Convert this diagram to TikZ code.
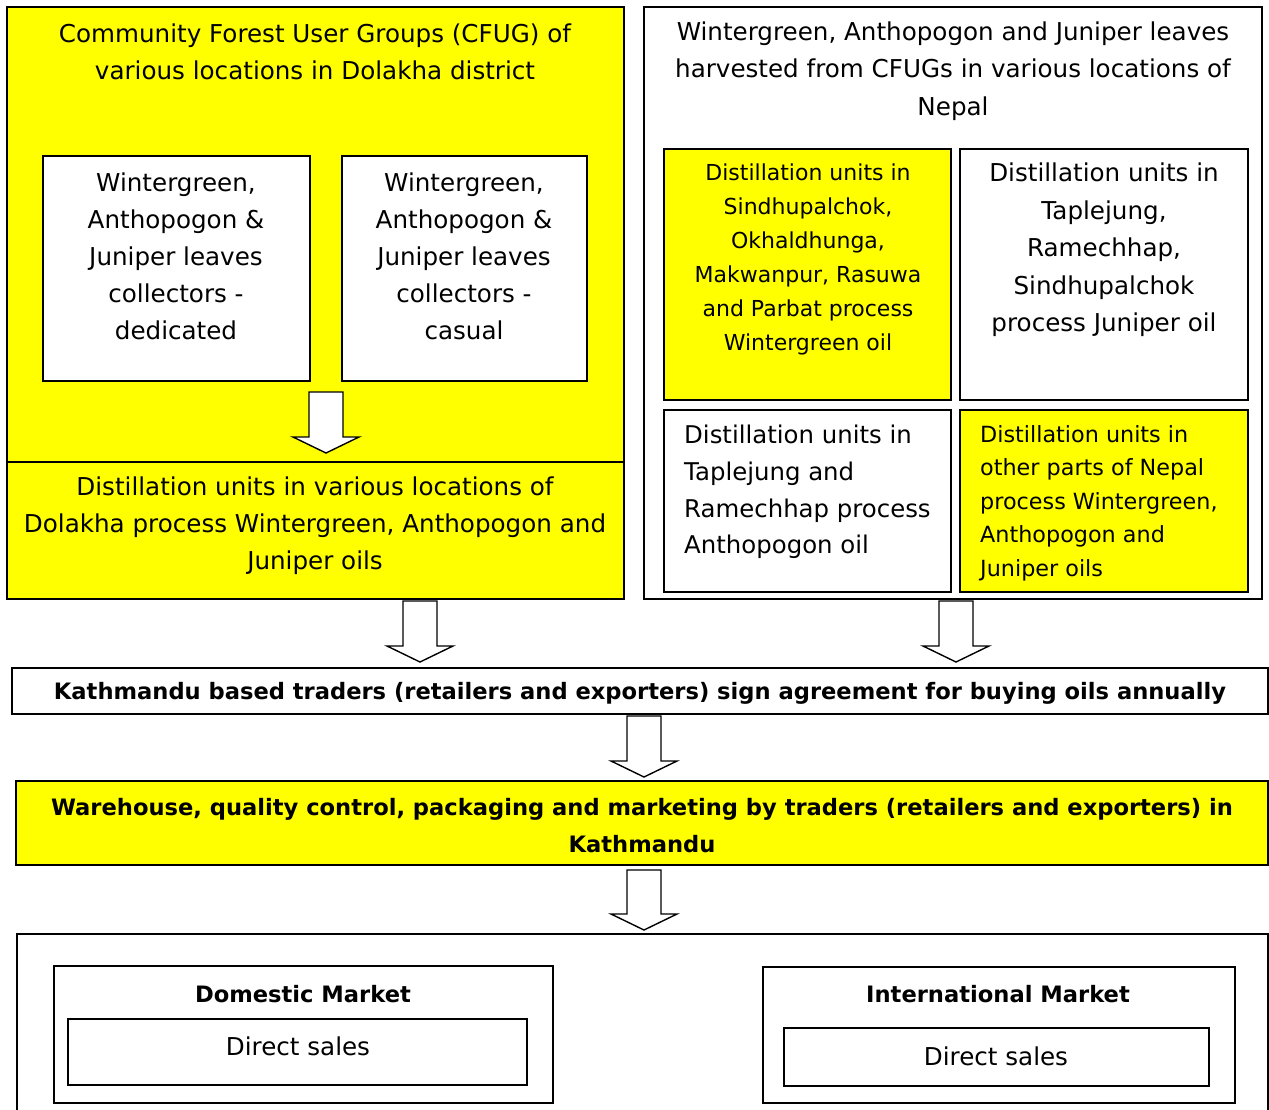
\documentclass[tikz,border=0pt]{standalone}
\usepackage{fontspec}
\setmainfont{DejaVu Sans}
\definecolor{yel}{HTML}{FFFF00}
\tikzset{
  box/.style={draw=black, line width=2pt, inner sep=0pt},
  ybox/.style={box, fill=yel},
  wbox/.style={box, fill=white},
  txt/.style={inner sep=0pt, align=center, font=\fontsize{24.6}{37}\selectfont},
  stxt/.style={inner sep=0pt, align=center, font=\fontsize{22}{34}\selectfont},
  btxt/.style={inner sep=0pt, align=center, font=\bfseries\fontsize{22.6}{37}\selectfont},
  barrow/.style={draw=black, line width=1.4pt, fill=white, line join=miter}
}
\newcommand\blockarrow[4]{% name, x, ytop, ytip
  \path[barrow] (#2-17,#3) -- (#2+17,#3) -- (#2+17,#4-16) -- (#2+33,#4-16)
    -- (#2,#4) -- (#2-33,#4-16) -- (#2-17,#4-16) -- cycle;
  \coordinate (#1) at (#2,#4);
}
\begin{document}
\begin{tikzpicture}[x=1pt,y=-1pt]
\useasboundingbox (0,0) rectangle (1269,1109);
% left block
\draw[ybox] (7,7) rectangle (624,599);
\coordinate (divL) at (7,462);
\coordinate (divR) at (624,462);
\draw[line width=2pt] (divL) -- (divR);
\node[txt] (cfug) at (315,52) {Community Forest User Groups (CFUG) of\\various locations in Dolakha district};
\draw[wbox] (43,156) rectangle (310,381);
\draw[wbox] (342,156) rectangle (587,381);
\node[txt] (ded) at (176,256) {Wintergreen,\\Anthopogon \&\\Juniper leaves\\collectors -\\dedicated};
\node[txt] (cas) at (464,256) {Wintergreen,\\Anthopogon \&\\Juniper leaves\\collectors -\\casual};
\blockarrow{a1}{326}{392}{453}
\node[txt] (dol) at (315,526) {Distillation units in various locations of\\Dolakha process Wintergreen, Anthopogon and\\Juniper oils};
% right block
\draw[wbox] (644,7) rectangle (1262,599);
\node[txt, font=\fontsize{24.6}{37.5}\selectfont] (harv) at (953,71) {Wintergreen, Anthopogon and Juniper leaves\\harvested from CFUGs in various locations of\\Nepal};
\draw[ybox] (664,149) rectangle (951,400);
\draw[wbox] (960,149) rectangle (1248,400);
\draw[wbox] (664,410) rectangle (951,592);
\draw[ybox] (960,410) rectangle (1248,592);
\node[stxt] (wg) at (808,259) {Distillation units in\\Sindhupalchok,\\Okhaldhunga,\\Makwanpur, Rasuwa\\and Parbat process\\Wintergreen oil};
\node[txt, font=\fontsize{24.6}{37.5}\selectfont] (jun) at (1104,250) {Distillation units in\\Taplejung,\\Ramechhap,\\Sindhupalchok\\process Juniper oil};
\node[txt, align=left, anchor=west, font=\fontsize{24.4}{36.7}\selectfont] (anth) at (684,492) {Distillation units in\\Taplejung and\\Ramechhap process\\Anthopogon oil};
\node[stxt, align=left, anchor=west, font=\fontsize{22.3}{33.5}\selectfont] (oth) at (980,503) {Distillation units in\\other parts of Nepal\\process Wintergreen,\\Anthopogon and\\Juniper oils};
% arrows to traders
\blockarrow{a2}{420}{601}{662}
\blockarrow{a3}{956}{601}{662}
% traders
\draw[wbox] (12,668) rectangle (1268,714);
\node[btxt] (trad) at (640,693) {Kathmandu based traders (retailers and exporters) sign agreement for buying oils annually};
\blockarrow{a4}{644}{716}{777}
\draw[ybox] (16,781) rectangle (1268,865);
\node[btxt] (ware) at (642,826) {Warehouse, quality control, packaging and marketing by traders (retailers and exporters) in\\Kathmandu};
\blockarrow{a5}{644}{870}{930}
% markets
\draw[box] (17,1125) -- (17,934) -- (1268,934) -- (1268,1125);
\draw[wbox] (54,966) rectangle (553,1103);
\node[btxt] (dom) at (303,994) {Domestic Market};
\draw[wbox] (68,1019) rectangle (527,1085);
\node[txt] (ds1) at (298,1046) {Direct sales};
\draw[wbox] (763,967) rectangle (1235,1103);
\node[btxt] (intl) at (998,994) {International Market};
\draw[wbox] (784,1028) rectangle (1209,1086);
\node[txt] (ds2) at (996,1056) {Direct sales};
\end{tikzpicture}
\end{document}
